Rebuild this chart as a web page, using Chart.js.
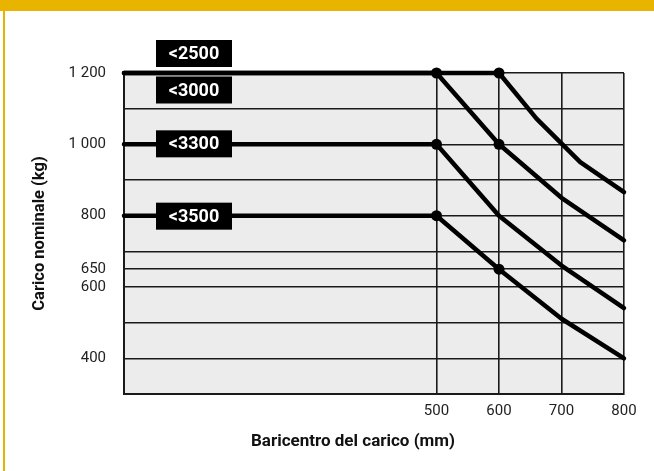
<!DOCTYPE html>
<html>
<head>
<meta charset="utf-8">
<script src="https://cdn.jsdelivr.net/npm/chart.js@4/dist/chart.umd.min.js"></script>
<style>
  html, body { margin: 0; padding: 0; background: #fff; }
  #wrap { position: relative; width: 654px; height: 471px; overflow: hidden; }
  #topbar { position: absolute; left: 0; top: 0; width: 654px; height: 11px; background: #E9B400; }
  #leftbar { position: absolute; left: 3px; top: 0; width: 2px; height: 471px; background: #E9B400; }
  canvas { position: absolute; left: 0; top: 0; }
</style>
</head>
<body>
<div id="wrap">
  <canvas id="loadChart" width="654" height="471"></canvas>
  <div id="topbar"></div>
  <div id="leftbar"></div>
</div>
<script>
// load curves: load centre (mm) -> rated load (kg), one per lift height
const seriesNames = ['<2500', '<3000', '<3300', '<3500'];
const x2500 = [0, 600, 660, 730, 800];
const y2500 = [1200, 1200, 1072, 950, 866];
const x3000 = [0, 500, 600, 700, 800];
const y3000 = [1200, 1200, 1000, 850, 731];
const x3300 = [0, 500, 600, 700, 800];
const y3300 = [1000, 1000, 800, 660, 541];
const x3500 = [0, 500, 600, 700, 800];
const y3500 = [800, 800, 650, 511, 400];

const xTicks = [500, 600, 700, 800];
const yTicks = [1200, 1000, 800, 650, 600, 400];
const yGrid = [300, 400, 500, 600, 650, 700, 800, 900, 1000, 1100, 1200];

// which points get a dot
const dotIndex = [[1], [1, 2], [1], [1, 2]];

const FONT = 'Roboto, "Liberation Sans", sans-serif';

function pts(xs, ys) {
  return xs.map((x, i) => ({ x: x, y: ys[i] }));
}

const allX = [x2500, x3000, x3300, x3500];
const allY = [y2500, y3000, y3300, y3500];

const datasets = seriesNames.map((name, s) => ({
  label: name,
  data: pts(allX[s], allY[s]),
  borderColor: '#000',
  backgroundColor: '#000',
  borderWidth: 4.5,
  borderCapStyle: 'round',
  borderJoinStyle: 'round',
  tension: 0,
  clip: false,
  pointRadius: ctx => dotIndex[ctx.datasetIndex].includes(ctx.dataIndex) ? 5.5 : 0,
  pointHoverRadius: 0,
  pointBorderWidth: 0
}));

const plotBg = {
  id: 'plotBg',
  beforeDraw(chart) {
    const { ctx, chartArea: a } = chart;
    ctx.save();
    ctx.fillStyle = '#ECECEC';
    ctx.fillRect(a.left, a.top, a.right - a.left, a.bottom - a.top);
    ctx.restore();
  }
};

// black tags with the lift height, drawn over the lines
const tagOffsets = [-19.5, 17, -0.5, 0.5];
const heightTags = {
  id: 'heightTags',
  afterDatasetsDraw(chart) {
    const { ctx, chartArea: a, scales } = chart;
    ctx.save();
    seriesNames.forEach((name, s) => {
      const cy = scales.y.getPixelForValue(allY[s][0]) + tagOffsets[s];
      const left = a.left + 32, w = 76, h = 27;
      ctx.fillStyle = '#000';
      ctx.fillRect(left, cy - h / 2, w, h);
      ctx.fillStyle = '#fff';
      ctx.font = 'bold 18px ' + FONT;
      ctx.textAlign = 'center';
      ctx.textBaseline = 'middle';
      ctx.fillText(name, left + w / 2, cy + 1);
    });
    ctx.restore();
  },
  afterDraw(chart) {
    const { ctx } = chart;
    ctx.save();
    ctx.fillStyle = '#111';
    ctx.font = 'bold 17px ' + FONT;
    ctx.textAlign = 'center';
    ctx.textBaseline = 'middle';
    ctx.fillText('Baricentro del carico (mm)', 353, 442);
    ctx.restore();
  }
};

const chart = new Chart(document.getElementById('loadChart'), {
  type: 'line',
  data: { datasets: datasets },
  plugins: [plotBg, heightTags],
  options: {
    responsive: false,
    animation: false,
    events: [],
    layout: { padding: { top: 73, right: 30, left: 0, bottom: 0 } },
    plugins: { legend: { display: false }, tooltip: { enabled: false } },
    scales: {
      x: {
        type: 'linear',
        min: 0,
        max: 800,
        afterBuildTicks: scale => { scale.ticks = xTicks.map(v => ({ value: v })); },
        afterFit: scale => { scale.height = 77; },
        ticks: {
          padding: 8,
          color: '#222',
          font: { family: FONT, size: 15 },
          maxRotation: 0,
          autoSkip: false,
          callback: v => String(v)
        },
        grid: { color: '#1a1a1a', lineWidth: 1.6, drawTicks: false },
        border: { color: '#1a1a1a', width: 2 }
      },
      y: {
        type: 'linear',
        min: 300,
        max: 1200,
        afterBuildTicks: scale => { scale.ticks = yGrid.map(v => ({ value: v })); },
        afterFit: scale => { scale.width = 124; },
        ticks: {
          padding: 18,
          color: '#222',
          font: { family: FONT, size: 15 },
          autoSkip: false,
          callback: v => yTicks.includes(v) ? String(v).replace(/\B(?=(\d{3})+(?!\d))/g, ' ') : ''
        },
        grid: { color: '#1a1a1a', lineWidth: 1.6, drawTicks: false },
        border: { color: '#1a1a1a', width: 2 },
        title: {
          display: true,
          text: 'Carico nominale (kg)',
          color: '#111',
          font: { family: FONT, size: 16.5, weight: 'bold' },
          padding: { top: 30, bottom: 0 }
        }
      }
    }
  }
});
</script>
</body>
</html>
